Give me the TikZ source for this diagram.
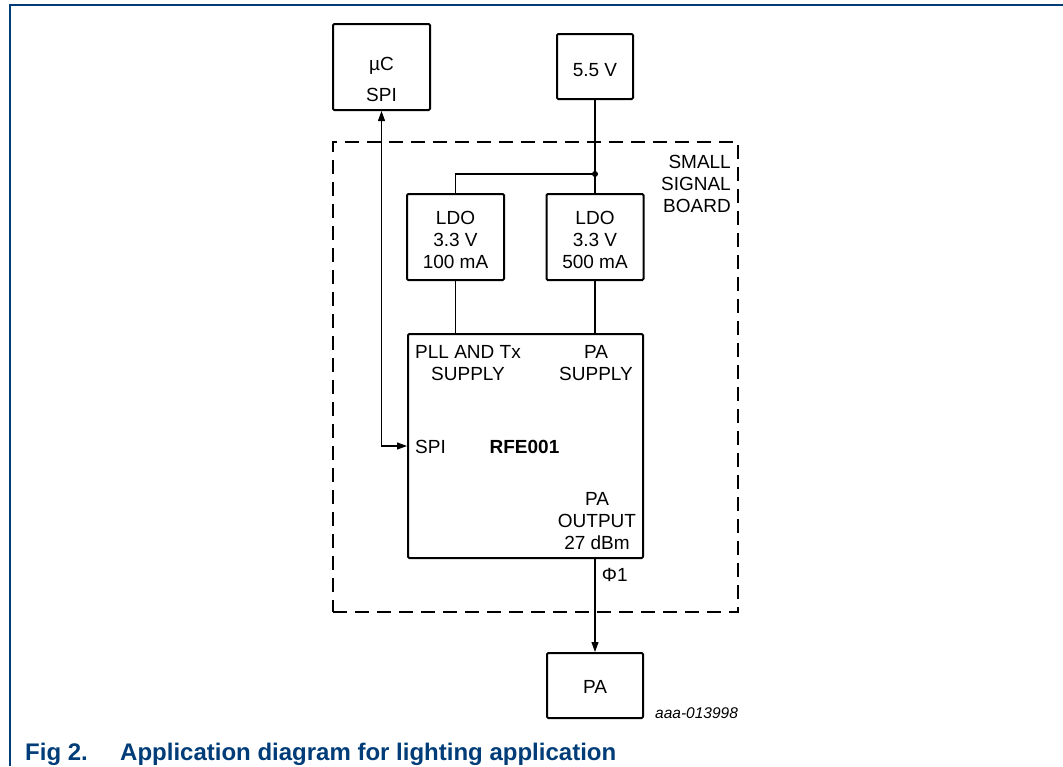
\documentclass[tikz,border=0pt]{standalone}
\usepackage{fontspec}
\setmainfont{Liberation Sans}
\usetikzlibrary{arrows.meta, positioning}
\definecolor{FIGblue}{RGB}{0,60,120}
\tikzset{
  blk/.style={draw, line width=2pt, rounded corners=1.2pt, inner sep=0pt},
  lbl/.style={inner sep=0pt, align=center},
  wire/.style={line width=1.1pt},
}

\begin{document}
\begin{tikzpicture}[x=1pt, y=-1pt, >={Triangle[length=10pt,width=7pt]}, font=\fontsize{19}{22}\selectfont]
  \useasboundingbox (0,0) rectangle (1063,766);
  % Frame
  \draw[FIGblue, line width=2.2pt] (10,766) -- (10,5) -- (1063,5);
  % Board outline
  \node[draw, line width=2.6pt, dash pattern=on 14pt off 8pt,
        minimum width=405pt, minimum height=470pt] (board) at (535.5,377) {};
  \node[lbl, align=right, anchor=east] (boardtxt) at (731,184) {SMALL\\SIGNAL\\BOARD};
  % Controller and supply
  \node[blk, minimum width=97pt, minimum height=86pt] (uc) at (381.5,67) {};
  \node[lbl] (ucname) at (381.5,66) {µC};
  \node[lbl] (ucspi) at (381.5,95) {SPI};
  \node[blk, minimum width=76pt, minimum height=65pt] (vsup) at (595,66.5) {};
  \node[lbl] (vsuptxt) at (595,70) {5.5 V};
  % Regulators
  \foreach \n/\x/\cur in {ldoa/455.5/100, ldob/595/500}{
    \node[blk, minimum width=97pt, minimum height=86pt] (\n) at (\x,237) {};
    \node[lbl] (\n-txt) at (\x,240) {LDO\\3.3 V\\\cur\ mA};
  }
  \coordinate (jct) at (595,174);
  \fill (jct) circle (3pt);
  % Transceiver
  \node[blk, minimum width=235pt, minimum height=224pt] (rfe) at (525.5,446) {};
  \node[lbl] (pllsup) at (468,363) {PLL AND Tx\\SUPPLY};
  \node[lbl] (pasup) at (596,363) {PA\\SUPPLY};
  \node[lbl, anchor=west] (spipin) at (415,447) {SPI};
  \node[lbl, font=\fontsize{19}{22}\selectfont\bfseries] (rfename) at (524.5,447) {RFE001};
  \node[lbl] (paout) at (597,521.5) {PA\\OUTPUT\\27 dBm};
  \node[lbl] (phi) at (614.7,575) {Φ1};
  % Power amplifier
  \node[blk, minimum width=96pt, minimum height=65pt] (pa) at (595,685.5) {};
  \node[lbl] (patxt) at (595,687) {PA};
  \node[lbl, anchor=west, font=\fontsize{15.5}{18}\selectfont\itshape] (figid) at (655,713.5) {aaa-013998};
  % Wires
  \draw[wire] (vsup.south) -- (ldob.north);
  \draw[wire] (jct) -| (ldoa.north);
  \draw[wire] (ldoa.south) -- (ldoa.south |- rfe.north);
  \draw[wire] (ldob.south) -- (ldob.south |- rfe.north);
  \draw[wire, <->] (uc.south) |- (rfe.west);
  \draw[wire, ->] (pa.north |- rfe.south) -- (pa.north);
  % Caption
  \node[anchor=base west, inner sep=0pt, text=FIGblue, font=\fontsize{24}{28}\selectfont\bfseries]
    (fignum) at (25,760) {Fig 2.};
  \node[anchor=base west, inner sep=0pt, text=FIGblue, font=\fontsize{24}{28}\selectfont\bfseries]
    (figtitle) at (120,760) {Application diagram for lighting application};
\end{tikzpicture}
\end{document}
